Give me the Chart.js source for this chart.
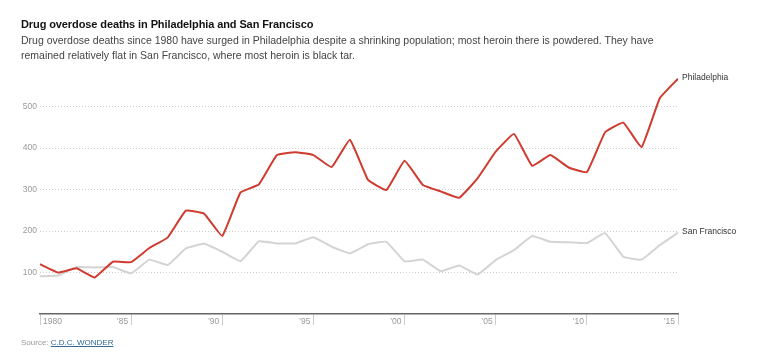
<!DOCTYPE html>
<html>
<head>
<meta charset="utf-8">
<script src="https://cdn.jsdelivr.net/npm/chart.js@4"></script>
<style>
  html,body{margin:0;padding:0;background:#fff;}
  body{width:760px;height:354px;position:relative;overflow:hidden;font-family:"Liberation Sans",Arial,sans-serif;}
  #wrap{position:absolute;left:0;top:0;width:760px;height:354px;}
  #title{position:absolute;left:21px;top:17px;font-weight:bold;font-size:11px;line-height:15px;color:#121212;white-space:nowrap;letter-spacing:-0.1px;}
  #sub{position:absolute;left:21px;top:33px;font-size:10.5px;line-height:15.3px;color:#444;white-space:nowrap;}
  #src{position:absolute;left:21px;top:337px;font-size:8px;line-height:12px;color:#999;white-space:nowrap;}
  #src span{color:#326891;text-decoration:underline;}
</style>
</head>
<body>
<div id="wrap"><canvas id="c" width="760" height="354"></canvas></div>
<div id="title">Drug overdose deaths in Philadelphia and San Francisco</div>
<div id="sub">Drug overdose deaths since 1980 have surged in Philadelphia despite a shrinking population; most heroin there is powdered. They have<br>remained relatively flat in San Francisco, where most heroin is black tar.</div>
<div id="src">Source: <span>C.D.C. WONDER</span></div>
<script>
const years = [1980,1981,1982,1983,1984,1985,1986,1987,1988,1989,1990,1991,1992,1993,1994,1995,1996,1997,1998,1999,2000,2001,2002,2003,2004,2005,2006,2007,2008,2009,2010,2011,2012,2013,2014,2015];
const philadelphia = [120,100,110,88,126,125,159,184,249,242,188,293,312,383,390,383,354,420,323,299,369,311,295,280,327,391,434,357,383,353,342,438,461,402,520,567];
const sanFrancisco = [91,93,113,112,113,98,131,118,158,169,150,127,175,170,170,185,162,146,168,174,127,131,103,117,95,130,154,188,174,173,171,195,138,131,166,196];
const yTicks = [100,200,300,400,500];
const xTicks = [1980,1985,1990,1995,2000,2005,2010,2015];
const xTickLabels = ['1980','\u201985','\u201990','\u201995','\u201900','\u201905','\u201910','\u201915'];
const seriesNames = ['Philadelphia','San Francisco'];

const labelPlugin = {
  id:'labels',
  afterDraw(chart){
    const ctx = chart.ctx;
    const xs = chart.scales.x, ys = chart.scales.y;
    ctx.save();
    ctx.font = '8.5px "Liberation Sans", Arial, sans-serif';
    ctx.fillStyle = '#999';
    ctx.textBaseline = 'middle';
    xTicks.forEach((v,i)=>{
      const px = xs.getPixelForValue(v);
      if(i===0){ctx.textAlign='left'; ctx.fillText(xTickLabels[i], px+3, ys.bottom+8);}
      else {ctx.textAlign='right'; ctx.fillText(xTickLabels[i], px-3, ys.bottom+8);}
    });
    ctx.font = '8.5px "Liberation Sans", Arial, sans-serif';
    ctx.fillStyle = '#333';
    ctx.textAlign='left';
    chart.data.datasets.forEach((ds,i)=>{
      const meta = chart.getDatasetMeta(i);
      const last = meta.data[meta.data.length-1];
      ctx.fillText(seriesNames[i], last.x+4, last.y-1);
    });
    ctx.restore();
  }
};

new Chart(document.getElementById('c'),{
  type:'line',
  data:{
    datasets:[
      {label:seriesNames[0], data:years.map((y,i)=>({x:y,y:philadelphia[i]})), borderColor:'#cf3b2e', borderWidth:2, pointRadius:0, tension:0.1, fill:false},
      {label:seriesNames[1], data:years.map((y,i)=>({x:y,y:sanFrancisco[i]})), borderColor:'#d4d4d4', borderWidth:2, pointRadius:0, tension:0.1, fill:false}
    ]
  },
  options:{
    responsive:false,
    animation:false,
    layout:{padding:{left:0,right:82,top:65,bottom:29}},
    plugins:{legend:{display:false},tooltip:{enabled:false}},
    scales:{
      x:{
        type:'linear', min:1980, max:2015,
        afterBuildTicks(s){ s.ticks = xTicks.map(v=>({value:v})); },
        ticks:{display:false},
        grid:{drawOnChartArea:false, drawTicks:true, tickLength:11, color:'#ccc', lineWidth:1},
        border:{display:true, color:'#666', width:1.5}
      },
      y:{
        min:0, max:600,
        afterBuildTicks(s){ s.ticks = yTicks.map(v=>({value:v})); },
        afterFit(s){ s.width = 40; },
        ticks:{display:true, padding:3, color:'#999', font:{family:'"Liberation Sans", Arial, sans-serif', size:8.5}},
        grid:{drawTicks:false, color:'#cccccc', lineWidth:1},
        border:{display:false, dash:[1,2]}
      }
    }
  },
  plugins:[labelPlugin]
});
</script>
</body>
</html>
